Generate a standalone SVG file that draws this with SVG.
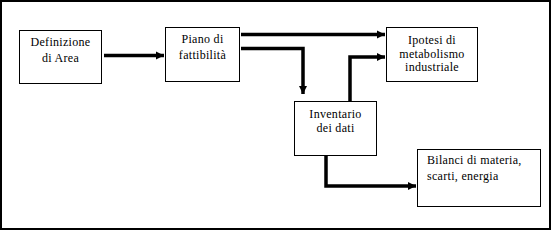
<svg xmlns="http://www.w3.org/2000/svg" width="553" height="231" viewBox="0 0 553 231">
<style>
.box{fill:#fff;stroke:#000;stroke-width:1}
.t{font-size:12px;letter-spacing:0.3px;fill:#000}
.c{text-anchor:middle}
.con{fill:none;stroke:#000;stroke-width:3.5}
</style>
<defs>
<marker id="ah" markerUnits="userSpaceOnUse" markerWidth="10" markerHeight="10" viewBox="0 0 10 10" refX="9" refY="5" orient="auto">
<path d="M1,1 L9,5 L1,9 Z" fill="#000"/>
</marker>
</defs>
<rect x="1" y="1" width="549" height="228" fill="#fff" stroke="#000" stroke-width="2"/>
<g id="connectors">
<path class="con" d="M104,55.5 H164" marker-end="url(#ah)"/>
<path class="con" d="M241,34.5 H385" marker-end="url(#ah)"/>
<path class="con" d="M241,48.5 H303 V94" marker-end="url(#ah)"/>
<path class="con" d="M350,101 V57 H385" marker-end="url(#ah)"/>
<path class="con" d="M326,155 V186 H416" marker-end="url(#ah)"/>
</g>
<g id="n1" font-family="Liberation Serif">
<rect class="box" x="19.5" y="30.5" width="82" height="53"/>
<text class="t c" x="60.5" y="46">Definizione</text>
<text class="t c" x="60.5" y="62">di Area</text>
</g>
<g id="n2" font-family="Liberation Serif">
<rect class="box" x="165.5" y="27.5" width="74" height="54"/>
<text class="t c" x="202.5" y="43">Piano di</text>
<text class="t c" x="202.5" y="59">fattibilità</text>
</g>
<g id="n3" font-family="Liberation Serif">
<rect class="box" x="386.5" y="27.5" width="91" height="54"/>
<text class="t c" x="432" y="43.5">Ipotesi di</text>
<text class="t c" x="432" y="57.5">metabolismo</text>
<text class="t c" x="432" y="71">industriale</text>
</g>
<g id="n4" font-family="Liberation Serif">
<rect class="box" x="294.5" y="101.5" width="82" height="54"/>
<text class="t c" x="335.5" y="118">Inventario</text>
<text class="t c" x="335.5" y="132">dei dati</text>
</g>
<g id="n5" font-family="Liberation Serif">
<rect class="box" x="417.5" y="149.5" width="123" height="57"/>
<text class="t" x="427" y="164">Bilanci di materia,</text>
<text class="t" x="427" y="180">scarti, energia</text>
</g>
</svg>
